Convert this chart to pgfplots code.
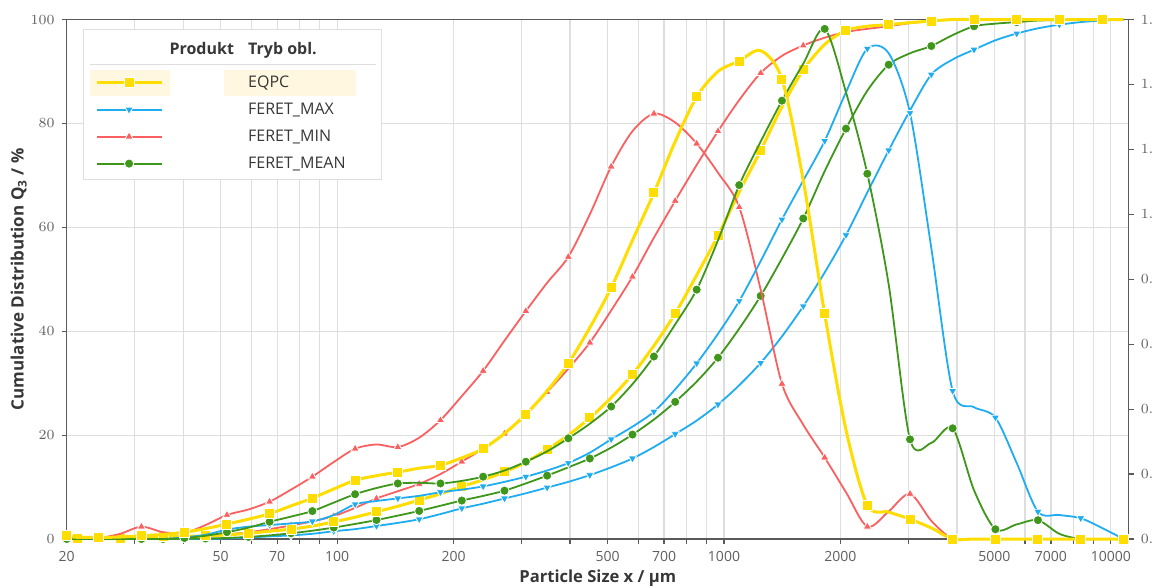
\documentclass[border=0pt]{standalone}
\usepackage{fontspec}
\setmainfont{Open Sans}
\usepackage{pgfplots}
\usepackage{pgfplotstable}
\pgfplotsset{compat=1.18}

\definecolor{eqpcC}{RGB}{255,221,0}
\definecolor{fmaxC}{RGB}{32,172,240}
\definecolor{fminC}{RGB}{250,96,96}
\definecolor{fmeanC}{RGB}{62,150,26}
\definecolor{gridC}{RGB}{222,222,222}
\definecolor{axisC}{RGB}{90,90,90}
\definecolor{tickC}{RGB}{95,95,95}
\definecolor{textC}{RGB}{55,55,55}
\definecolor{hlC}{RGB}{255,247,224}

% x in um, Q = cumulative (%), q = density (right axis)
\pgfplotstableread{
x Q q
20 0 0.010
21.3 0.1 0.005
24.2 0.1 0.005
27.5 0.1 0.006
31.2 0.2 0.010
35.5 0.4 0.014
40.3 0.5 0.021
45.7 0.6 0.032
51.9 0.8 0.046
59.0 1.1 0.061
66.9 1.5 0.078
76.0 1.9 0.102
86.3 2.5 0.126
98.0 3.3 0.154
111.3 4.2 0.181
126.4 5.25 0.195
143.5 6.3 0.206
163 7.5 0.218
185 8.7 0.227
210 10.1 0.250
238.5 11.4 0.278
270.8 12.9 0.325
307.5 14.8 0.384
349 17.25 0.456
396 20.0 0.541
450 23.3 0.651
511 27.2 0.774
580 31.7 0.920
659 37.2 1.066
748 43.4 1.224
850 50.8 1.362
965 58.4 1.440
1095 66.8 1.472
1244 74.8 1.504
1412 83.2 1.416
1603 90.3 1.104
1821 95.2 0.693
2067 97.9 0.336
2347 98.7 0.104
2665 99.0 0.083
3026 99.4 0.061
3435 99.7 0.034
3900 100 0
4430 100 0
5030 100 0
5710 100 0
6480 100 0
7360 100 0
8360 100 0
9490 100 0
10780 100 0
}\eqpc

\pgfplotstableread{
x Q q
20 0 0
21.3 0 0
24.2 0 0
27.5 0 0
31.2 0 0
35.5 0 0
40.3 0 0.005
45.7 0.05 0.013
51.9 0.1 0.029
59.0 0.3 0.038
66.9 0.5 0.043
76.0 0.7 0.048
86.3 1.0 0.054
98.0 1.5 0.074
111.3 1.9 0.107
126.4 2.5 0.117
143.5 3.1 0.125
163 3.8 0.133
185 4.8 0.144
210 5.9 0.152
238.5 6.8 0.162
270.8 7.8 0.176
307.5 8.8 0.192
349 9.9 0.211
396 11.0 0.234
450 12.3 0.266
511 13.8 0.307
580 15.5 0.346
659 17.7 0.392
748 20.2 0.461
850 22.8 0.541
965 25.9 0.632
1095 29.6 0.733
1244 33.9 0.856
1412 39.0 0.984
1603 44.8 1.104
1821 51.3 1.226
2067 58.5 1.376
2347 66.7 1.510
2665 74.8 1.496
3026 82.5 1.312
3435 89.4 0.896
3900 92.3 0.456
4430 94.2 0.406
5030 96.0 0.374
5710 97.3 0.234
6480 98.3 0.084
7360 99.0 0.074
8360 99.5 0.064
9490 99.8 0.034
10780 100 0
}\fmax

\pgfplotstableread{
x Q q
20 0 0
21.3 0 0
24.2 0 0.003
27.5 0.05 0.016
31.2 0.1 0.038
35.5 0.2 0.021
40.3 0.4 0.019
45.7 0.6 0.043
51.9 0.9 0.074
59.0 1.3 0.091
66.9 1.9 0.115
76.0 2.6 0.152
86.3 3.4 0.192
98.0 4.4 0.237
111.3 6.0 0.278
126.4 7.8 0.291
143.5 9.2 0.283
163 10.6 0.312
185 12.5 0.366
210 14.9 0.440
238.5 17.4 0.518
270.8 20.3 0.611
307.5 24.0 0.702
349 28.3 0.789
396 32.8 0.869
450 37.8 1.000
511 44.0 1.147
580 50.5 1.256
659 58.0 1.310
748 65.1 1.283
850 72.0 1.218
965 78.5 1.128
1095 84.5 1.022
1244 89.7 0.768
1412 93.0 0.478
1603 95.0 0.352
1821 96.5 0.251
2067 97.6 0.144
2347 98.2 0.038
2665 98.7 0.085
3026 99.3 0.139
3435 99.7 0.056
3900 100 0
4430 100 0
5030 100 0
5710 100 0
6480 100 0
7360 100 0
8360 100 0
9490 100 0
10780 100 0
}\fmin

\pgfplotstableread{
x Q q
20 0 0
21.3 0 0
24.2 0 0
27.5 0 0
31.2 0 0
35.5 0 0
40.3 0.05 0.003
45.7 0.1 0.010
51.9 0.2 0.021
59.0 0.4 0.035
66.9 0.7 0.053
76.0 1.1 0.069
86.3 1.6 0.086
98.0 2.2 0.112
111.3 2.9 0.138
126.4 3.65 0.157
143.5 4.5 0.171
163 5.4 0.173
185 6.4 0.171
210 7.4 0.179
238.5 8.3 0.192
270.8 9.3 0.211
307.5 10.7 0.238
349 12.2 0.270
396 13.8 0.310
450 15.5 0.355
511 17.6 0.408
580 20.1 0.477
659 23.0 0.562
748 26.4 0.661
850 30.3 0.768
965 34.9 0.920
1095 40.5 1.090
1244 46.8 1.224
1412 54.0 1.350
1603 61.7 1.464
1821 70.8 1.571
2067 79.0 1.376
2347 86.3 1.125
2665 91.3 0.784
3026 93.5 0.307
3435 94.9 0.296
3900 97.0 0.341
4430 98.7 0.150
5030 99.2 0.030
5710 99.5 0.045
6480 99.8 0.058
7360 99.9 0.016
8360 100 0
9490 100 0
10780 100 0
}\fmean

\pgfplotsset{
  eqpc/.style={eqpcC, line width=1.5pt, smooth, mark=square*, mark size=2.5pt,
    mark options={solid, fill=eqpcC, draw=white, line width=0.5pt}},
  fmax/.style={fmaxC, line width=0.9pt, smooth, mark=triangle*, mark size=2.4pt,
    mark options={solid, rotate=180, fill=fmaxC, draw=white, line width=0.4pt}},
  fmin/.style={fminC, line width=0.9pt, smooth, mark=triangle*, mark size=2.4pt,
    mark options={solid, fill=fminC, draw=white, line width=0.4pt}},
  fmean/.style={fmeanC, line width=0.9pt, smooth, mark=*, mark size=2.3pt,
    mark options={solid, fill=fmeanC, draw=white, line width=0.4pt}},
}

\newcommand{\legtxt}[1]{\makebox[105.5pt][l]{\raisebox{4.5pt}{\rule{0pt}{9pt}\hspace*{39.8pt}#1}}}

\begin{document}
\begin{tikzpicture}
\begin{axis}[
  scale only axis, width=531pt, height=259.75pt,
  xmode=log, xmin=20, xmax=11120, ymin=0, ymax=100,
  clip=false, tick align=outside,
  major tick length=2.5pt, minor tick length=2.5pt,
  tick style={axisC, line width=0.6pt},
  axis line style={axisC, line width=0.7pt},
  tick label style={font=\fontsize{7}{8}\selectfont, text=tickC},
  tick pos=left,
  xtick={20,50,70,100,200,500,700,1000,2000,5000,7000,10000},
  xticklabels={20,50,70,100,200,500,700,1000,2000,5000,7000,10000},
  minor xtick={30,40,60,80,90,300,400,600,800,900,3000,4000,6000,8000,9000},
  ytick={0,20,40,60,80,100},
  xmajorgrids, xminorgrids, ymajorgrids,
  major grid style={gridC, line width=0.6pt},
  minor grid style={gridC, line width=0.6pt},
  xlabel={\fontsize{8.3}{9}\selectfont\bfseries Particle Size x / µm},
  ylabel={\fontsize{8.5}{9}\selectfont\bfseries Cumulative Distribution Q\textsubscript{3} / \%},
  every axis x label/.style={at={([yshift=-19.5pt]rel axis cs:0.5,0)}, anchor=center, text=textC},
  every axis y label/.style={at={([xshift=-24pt]rel axis cs:0,0.5)}, anchor=center, rotate=90, text=textC},
  legend style={at={(0.01534,0.9817)}, anchor=north west,
    draw=gridC, line width=0.6pt, fill=white,
    inner xsep=1pt, inner ysep=1pt, row sep=0pt,
    nodes={inner sep=0pt, text depth=0pt, font=\fontsize{8}{9}\selectfont, text=textC}},
  legend cell align=left,
  legend image code/.code={
    \path[draw=none, fill=none] (-5.5pt,-3pt) rectangle (36pt,3pt);
    \draw[#1, mark repeat=2, mark phase=2] plot coordinates {(0pt,0pt) (16.25pt,0pt) (32.5pt,0pt)};},
]
\addlegendimage{empty legend}
\addlegendentry{\makebox[105.5pt][l]{\raisebox{7.5pt}{\rule{0pt}{11.25pt}%
  \makebox[0pt][l]{\hspace*{-39.5pt}\textcolor{gridC}{\rule[-5.25pt]{143pt}{0.5pt}}}%
  \makebox[0pt][l]{\hspace*{-39.5pt}\smash{\textcolor{hlC}{\rule[-20.75pt]{40pt}{13pt}}}}%
  \makebox[0pt][l]{\hspace*{27.5pt}\smash{\textcolor{hlC}{\rule[-20.75pt]{66pt}{13pt}}}}%
  \hspace*{0.5pt}\makebox[39.3pt][l]{\textbf{Produkt}}\textbf{Tryb obl.}}}}
\addlegendimage{eqpc}
\addlegendentry{\legtxt{EQPC}}
\addlegendimage{fmax}
\addlegendentry{\legtxt{FERET\_MAX}}
\addlegendimage{fmin}
\addlegendentry{\legtxt{FERET\_MIN}}
\addlegendimage{fmean}
\addlegendentry{\legtxt{FERET\_MEAN}}

\addplot[fmin, mark repeat=2, mark phase=2, forget plot] table[x=x, y=Q] {\fmin};
\addplot[fmax, mark repeat=2, mark phase=2, forget plot] table[x=x, y=Q] {\fmax};
\addplot[fmean, mark repeat=2, mark phase=2, forget plot] table[x=x, y=Q] {\fmean};
\addplot[eqpc, mark repeat=2, mark phase=2, forget plot] table[x=x, y=Q] {\eqpc};
\end{axis}

\begin{axis}[
  scale only axis, width=531pt, height=259.75pt,
  xmode=log, xmin=20, xmax=11120, ymin=0, ymax=1.6,
  clip=false, tick align=outside,
  major tick length=2.5pt,
  tick style={axisC, line width=0.6pt},
  axis line style={axisC, line width=0.7pt},
  tick label style={font=\fontsize{7}{8}\selectfont, text=tickC},
  axis x line=none, axis y line*=right,
  ytick={0,0.2,0.4,0.6,0.8,1.0,1.2,1.4,1.6},
  yticklabel style={/pgf/number format/.cd, fixed, fixed zerofill, precision=1},
]
\addplot[fmin, mark repeat=2, mark phase=1] table[x=x, y=q] {\fmin};
\addplot[fmax, mark repeat=2, mark phase=1] table[x=x, y=q] {\fmax};
\addplot[fmean, mark repeat=2, mark phase=1] table[x=x, y=q] {\fmean};
\addplot[eqpc, mark repeat=2, mark phase=1] table[x=x, y=q] {\eqpc};
\end{axis}

\pgfresetboundingbox
\path[use as bounding box] (-33.35pt,-23pt) rectangle (543.15pt,269.5pt);
\end{tikzpicture}
\end{document}
